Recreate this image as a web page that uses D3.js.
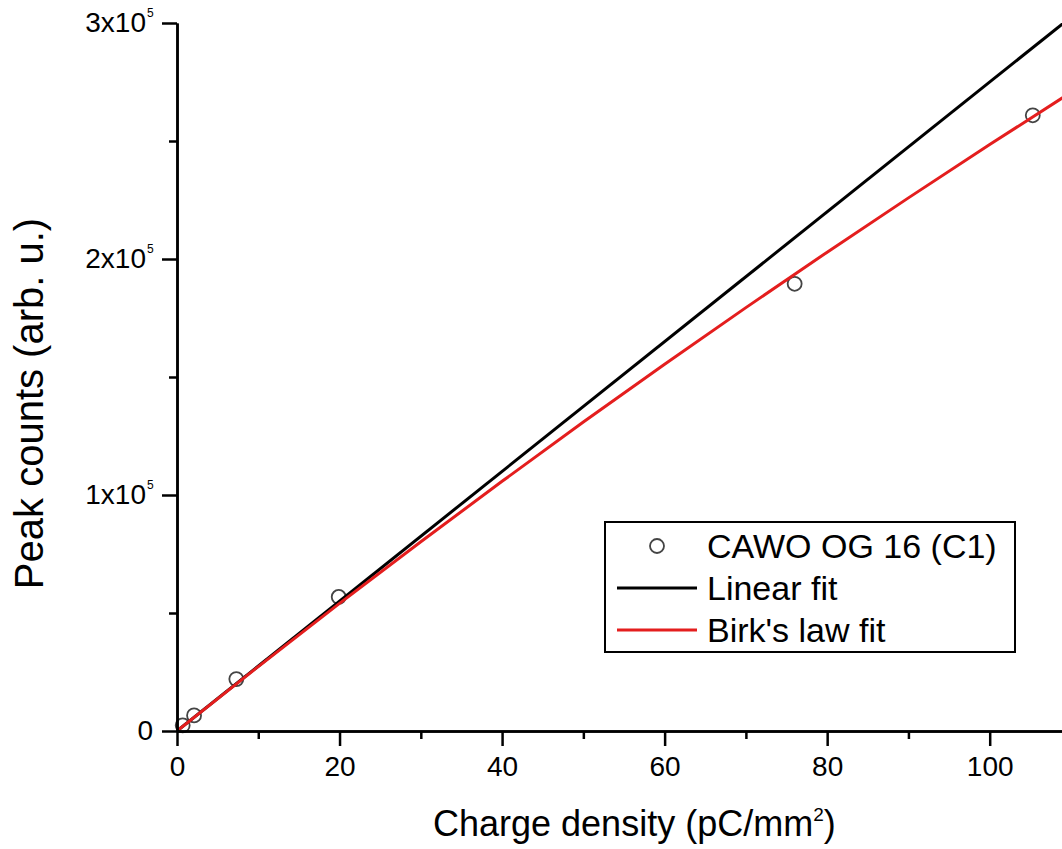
<!DOCTYPE html>
<html>
<head>
<meta charset="utf-8">
<script src="https://cdn.jsdelivr.net/npm/d3@7"></script>
<style>
body { margin: 0; background: #fff; }
svg { display: block; font-family: "Liberation Sans", Arial, sans-serif; }
</style>
</head>
<body>
<div id="chart"></div>
<script>
"use strict";

// measured points (charge density in pC/mm^2, peak counts)
const chargeDensity = [0.7, 2.1, 7.3, 19.9, 76.0, 105.3];
const peakCounts = [2400, 6600, 22000, 56800, 189500, 260900];

// fit curves
const linearFitX = [0, 110];
const linearFitY = [0, 302500];
const birksFitX = [0, 10, 20, 30, 40, 50, 60, 70, 80, 90, 100, 110];
const birksFitY = [0, 27300, 54100, 80200, 105800, 130900, 155400, 179400, 202900, 225900, 248500, 270600];

const xTicks = [0, 20, 40, 60, 80, 100];
const xMinorTicks = [10, 30, 50, 70, 90, 110];
const yTicks = [0, 100000, 200000, 300000];
const yMinorTicks = [50000, 150000, 250000];
const yTickMantissa = ["0", "1", "2", "3"];
const legendLabels = ["CAWO OG 16 (C1)", "Linear fit", "Birk's law fit"];

const RED = "#e41e1e";

function init() {
    draw();
}
window.onload = init;

function draw() {
    const W = 1062, H = 849;
    const left = 177, top = 23, bottom = 731;
    const pxPerUnit = 8.127;

    const svg = d3.select("#chart").append("svg")
        .attr("width", W)
        .attr("height", H);

    const x = d3.scaleLinear().domain([0, 110]).range([left, left + 110 * pxPerUnit]);
    const y = d3.scaleLinear().domain([0, 300000]).range([bottom, top]);

    svg.append("defs").append("clipPath").attr("id", "plot")
        .append("rect")
        .attr("x", left).attr("y", top)
        .attr("width", x(110) - left).attr("height", bottom - top);

    // data circles
    svg.append("g")
        .selectAll("circle")
        .data(chargeDensity)
        .enter().append("circle")
        .attr("cx", d => x(d))
        .attr("cy", (d, i) => y(peakCounts[i]))
        .attr("r", 7)
        .attr("fill", "none")
        .attr("stroke", "#444")
        .attr("stroke-width", 1.8);

    const line = d3.line()
        .x(d => x(d[0]))
        .y(d => y(d[1]));

    const plot = svg.append("g").attr("clip-path", "url(#plot)");
    plot.append("path")
        .datum(linearFitX.map((v, i) => [v, linearFitY[i]]))
        .attr("d", line)
        .attr("fill", "none")
        .attr("stroke", "#000")
        .attr("stroke-width", 3);
    plot.append("path")
        .datum(birksFitX.map((v, i) => [v, birksFitY[i]]))
        .attr("d", line.curve(d3.curveMonotoneX))
        .attr("fill", "none")
        .attr("stroke", RED)
        .attr("stroke-width", 3);

    // x axis
    const xAxis = svg.append("g")
        .attr("transform", `translate(0,${bottom})`)
        .call(d3.axisBottom(x).tickValues(xTicks).tickSize(15).tickSizeOuter(0).tickPadding(10));
    svg.append("g")
        .attr("transform", `translate(0,${bottom})`)
        .call(d3.axisBottom(x).tickValues(xMinorTicks).tickSize(8).tickSizeOuter(0).tickFormat(""));

    // y axis
    const yAxis = svg.append("g")
        .attr("transform", `translate(${left},0)`)
        .call(d3.axisLeft(y).tickValues(yTicks).tickSize(15).tickSizeOuter(0).tickPadding(9));
    svg.append("g")
        .attr("transform", `translate(${left},0)`)
        .call(d3.axisLeft(y).tickValues(yMinorTicks).tickSize(8).tickSizeOuter(0).tickFormat(""));

    yAxis.selectAll(".tick text").each(function(d, i) {
        const t = d3.select(this).text(null);
        if (d === 0) {
            t.text(yTickMantissa[i]);
            return;
        }
        t.attr("x", -31);
        t.append("tspan").text(yTickMantissa[i] + "x10");
        t.append("tspan")
            .attr("dy", -15)
            .attr("font-size", 12)
            .attr("x", -30)
            .attr("text-anchor", "start")
            .text("5");
    });

    svg.selectAll(".domain, .tick line")
        .attr("stroke", "#000")
        .attr("stroke-width", 2.5);
    xAxis.selectAll(".tick text").attr("font-size", 28).attr("fill", "#000");
    yAxis.selectAll(".tick text").attr("font-size", 28).attr("fill", "#000");

    // axis titles
    const xt = svg.append("text")
        .attr("x", 433)
        .attr("y", 836)
        .attr("font-size", 36);
    xt.append("tspan").text("Charge density (pC/mm");
    xt.append("tspan").attr("dy", -15).attr("font-size", 19).text("2");
    xt.append("tspan").attr("dy", 15).text(")");

    svg.append("text")
        .attr("transform", `translate(43,${(210 + 597) / 2}) rotate(-90)`)
        .attr("text-anchor", "middle")
        .attr("font-size", 40)
        .text("Peak counts (arb. u.)");

    // legend
    const lg = svg.append("g");
    lg.append("rect")
        .attr("x", 605).attr("y", 522)
        .attr("width", 410).attr("height", 130)
        .attr("fill", "#fff")
        .attr("stroke", "#000")
        .attr("stroke-width", 2);
    const rows = [546, 588, 630];
    lg.append("circle")
        .attr("cx", 657).attr("cy", rows[0]).attr("r", 7)
        .attr("fill", "none").attr("stroke", "#444").attr("stroke-width", 1.8);
    lg.append("line")
        .attr("x1", 617).attr("x2", 697).attr("y1", rows[1]).attr("y2", rows[1])
        .attr("stroke", "#000").attr("stroke-width", 3);
    lg.append("line")
        .attr("x1", 617).attr("x2", 697).attr("y1", rows[2]).attr("y2", rows[2])
        .attr("stroke", RED).attr("stroke-width", 3);
    lg.selectAll("text.lab")
        .data(legendLabels)
        .enter().append("text")
        .attr("class", "lab")
        .attr("x", 707)
        .attr("y", (d, i) => rows[i] + 12)
        .attr("font-size", 34)
        .text(d => d);
}
</script>
</body>
</html>
